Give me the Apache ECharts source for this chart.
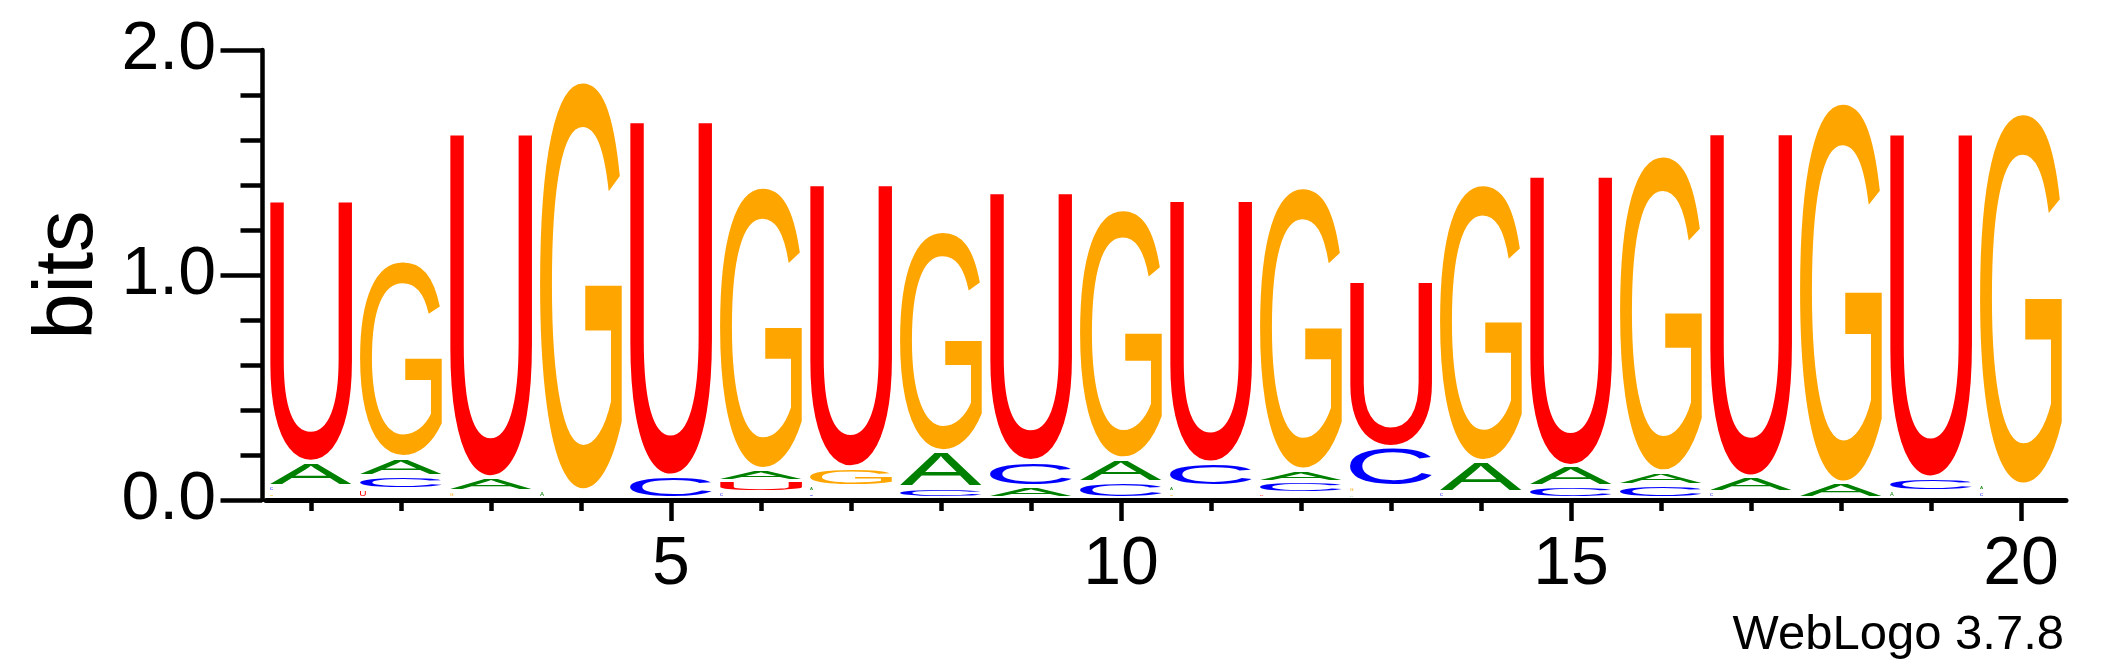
<!DOCTYPE html>
<html><head><meta charset="utf-8">
<script src="https://cdn.jsdelivr.net/npm/echarts@6/dist/echarts.min.js"></script>
<style>html,body{margin:0;padding:0;background:#fff}#c{width:2117px;height:667px}</style>
</head><body><div id="c"></div>
<script>
// Sequence positions (x categories)
const positions = ['1','2','3','4','5','6','7','8','9','10','11','12','13','14','15','16','17','18','19','20'];
// Letter heights in bits per position
const A = [0.108,0.083,0.062,0.034,0,0.051,0.027,0.161,0.053,0.104,0.027,0.053,0.020,0.136,0.089,0.060,0.067,0.068,0.032,0.030];
const C = [0.027,0.059,0,0,0.099,0.027,0.026,0.047,0.111,0.072,0.104,0.051,0.175,0.028,0.053,0.058,0.028,0,0.059,0.029];
const G = [0.026,0.876,0.030,1.822,0,1.258,0.083,0.981,0,1.110,0.026,1.258,0.030,1.234,0,1.408,0,1.693,0,1.655];
const U = [1.164,0.040,1.532,0,1.580,0.050,1.262,0,1.198,0,1.171,0.022,0.740,0,1.294,0,1.530,0,1.533,0];
const xLabelEvery = 5;

const letters = [['A', A, '#008000'], ['C', C, '#0000ff'], ['G', G, '#ffa500'], ['U', U, '#ff0000']];
const FONT_PX = 200;
const FONT = FONT_PX + 'px "Liberation Sans"';
const mctx = document.createElement('canvas').getContext('2d');
mctx.font = FONT; mctx.textBaseline = 'middle'; mctx.textAlign = 'left';
const metrics = {};
letters.forEach(([l]) => {
  const m = mctx.measureText(l);
  metrics[l] = {l: m.actualBoundingBoxLeft, r: m.actualBoundingBoxRight, a: m.actualBoundingBoxAscent, d: m.actualBoundingBoxDescent};
});

function renderItem(params, api) {
  const i = api.value(0);
  const base = api.coord([i, 0]);
  const colW = api.size([1, 0])[0];
  const pxPerBit = api.size([0, 1])[1];
  const stack = letters.map(([l, arr, col]) => ({l, h: arr[i], col}))
    .filter(d => d.h > 0).sort((a, b) => a.h - b.h);
  let cum = 0;
  const children = [];
  const fullW = colW * 0.91;
  stack.forEach(d => {
    const boxBottom = base[1] - cum * pxPerBit;
    const boxH = d.h * pxPerBit;
    const boxTop = boxBottom - boxH;
    cum += d.h;
    const inkH = Math.max(boxH - 4, 1.2);
    let w, left;
    if (inkH < 6) { w = Math.max(inkH * 1.15, 3); left = base[0] - fullW / 2; }
    else { w = fullW; left = base[0] - w / 2; }
    const m = metrics[d.l];
    const sx = w / (m.l + m.r), sy = inkH / (m.a + m.d);
    children.push({
      type: 'text', x: left + sx * m.l, y: boxTop + sy * m.a, scaleX: sx, scaleY: sy, silent: true,
      style: {text: d.l, x: 0, y: 0, font: FONT, fill: d.col, align: 'left', verticalAlign: 'middle'}
    });
  });
  return {type: 'group', children};
}

const chart = echarts.init(document.getElementById('c'));
const black = '#000';
const ff = '"Liberation Sans", Arial, sans-serif';
chart.setOption({
  animation: false,
  backgroundColor: '#fff',
  grid: [
    {left: 266, top: 50, width: 1800, height: 450},
    {left: 266, top: 50, width: 1800, height: 450}
  ],
  xAxis: [
    {type: 'category', gridIndex: 0, data: positions, boundaryGap: true,
     axisLine: {show: true, lineStyle: {color: black, width: 5}},
     axisTick: {show: true, alignWithLabel: true, interval: 0, length: 11, lineStyle: {color: black, width: 4.5}},
     axisLabel: {show: true, interval: (idx) => (idx + 1) % xLabelEvery === 0, fontSize: 68, fontFamily: ff, color: black, margin: 31},
     splitLine: {show: false}},
    {type: 'category', gridIndex: 1, data: positions, boundaryGap: true,
     axisLine: {show: false},
     axisTick: {show: true, alignWithLabel: true, interval: (idx) => (idx + 1) % xLabelEvery === 0, length: 21, lineStyle: {color: black, width: 4.5}},
     axisLabel: {show: false},
     splitLine: {show: false}}
  ],
  yAxis: [
    {type: 'value', gridIndex: 0, min: 0, max: 2, interval: 1, offset: 4,
     axisLine: {show: true, lineStyle: {color: black, width: 4.5}},
     axisTick: {show: true, length: 41.5, lineStyle: {color: black, width: 4.5}},
     minorTick: {show: true, splitNumber: 5, length: 21.5, lineStyle: {color: black, width: 4.5}},
     splitLine: {show: false}, minorSplitLine: {show: false},
     axisLabel: {formatter: v => v.toFixed(1), fontSize: 68, fontFamily: ff, color: black, margin: 46},
     name: 'bits', nameLocation: 'middle', nameGap: 139,
     nameTextStyle: {fontSize: 83, fontFamily: ff, color: black}},
    {type: 'value', gridIndex: 1, min: 0, max: 2, show: false}
  ],
  graphic: [
    {type: 'text', x: 2064, y: 635, silent: true,
     style: {text: 'WebLogo 3.7.8', font: '49px "Liberation Sans"', fill: black, align: 'right', verticalAlign: 'middle'}}
  ],
  series: [
    {type: 'custom', xAxisIndex: 0, yAxisIndex: 0, silent: true, clip: false,
     data: positions.map((p, i) => [i]), encode: {x: 0},
     renderItem: renderItem}
  ]
});
</script>
</body></html>
